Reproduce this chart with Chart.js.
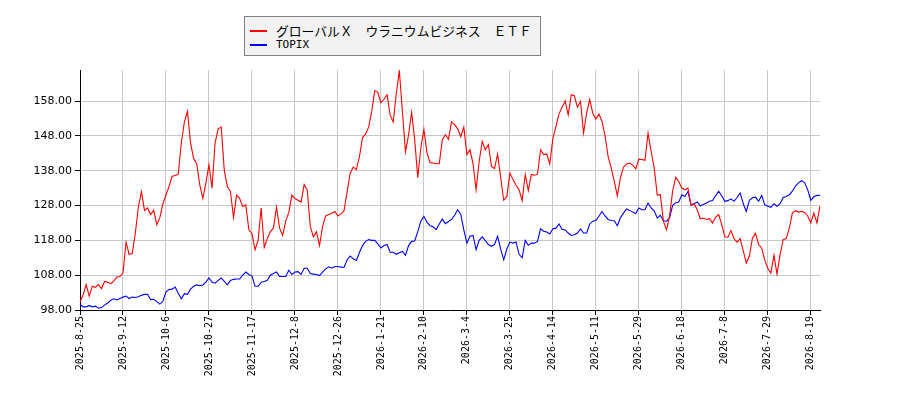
<!DOCTYPE html>
<html>
<head>
<meta charset="utf-8">
<script src="https://cdn.jsdelivr.net/npm/chart.js@4.4.1/dist/chart.umd.min.js"></script>
<style>
  html, body { margin: 0; padding: 0; background: #ffffff; }
  #wrap { position: relative; width: 900px; height: 400px; }
  #legend { position: absolute; left: 244px; top: 16px; width: 297px; height: 40px; box-sizing: border-box;
            background: #f2f2f2; border: 1px solid #808080; font-family: "Noto Sans CJK JP", sans-serif; font-size: 12.8px; color: #000; }
  .row { position: absolute; left: 0; height: 14px; }
  .sw { position: absolute; left: 5px; width: 17px; height: 2px; }
  .tx { position: absolute; left: 31px; white-space: nowrap; line-height: 14px; }
  #l1 { font-family: "DejaVu Sans Mono", monospace; font-size: 11px; }
</style>
</head>
<body>
<div id="wrap">
  <canvas id="c" width="900" height="400"></canvas>
  <div id="legend">
    <div class="row" style="top:7px;"><div class="sw" style="top:6px;background:#ff0000;"></div><div class="tx" id="l0"></div></div>
    <div class="row" style="top:21px;"><div class="sw" style="top:6px;background:#0000ff;"></div><div class="tx" id="l1"></div></div>
  </div>
</div>
<script>
const seriesNames = ["グローバルＸ　ウラニウムビジネス　ＥＴＦ", "TOPIX"];

const dates = [
"2025-8-25","2025-8-26","2025-8-27","2025-8-28","2025-8-29",
"2025-9-1","2025-9-2","2025-9-3","2025-9-4","2025-9-5","2025-9-8","2025-9-9","2025-9-10","2025-9-11","2025-9-12",
"2025-9-16","2025-9-17","2025-9-18","2025-9-19","2025-9-22","2025-9-24","2025-9-25","2025-9-26","2025-9-29","2025-9-30",
"2025-10-1","2025-10-2","2025-10-3","2025-10-6",
"2025-10-7","2025-10-8","2025-10-9","2025-10-10","2025-10-14","2025-10-15","2025-10-16","2025-10-17","2025-10-20","2025-10-21","2025-10-22","2025-10-23","2025-10-24","2025-10-27",
"2025-10-28","2025-10-29","2025-10-30","2025-10-31",
"2025-11-4","2025-11-5","2025-11-6","2025-11-7","2025-11-10","2025-11-11","2025-11-12","2025-11-13","2025-11-14","2025-11-17",
"2025-11-18","2025-11-19","2025-11-20","2025-11-21","2025-11-25","2025-11-26","2025-11-27","2025-11-28",
"2025-12-1","2025-12-2","2025-12-3","2025-12-4","2025-12-5","2025-12-8",
"2025-12-9","2025-12-10","2025-12-11","2025-12-12","2025-12-15","2025-12-16","2025-12-17","2025-12-18","2025-12-19","2025-12-22","2025-12-23","2025-12-24","2025-12-25","2025-12-26",
"2025-12-29","2025-12-30",
"2026-1-5","2026-1-6","2026-1-7","2026-1-8","2026-1-9","2026-1-13","2026-1-14","2026-1-15","2026-1-16","2026-1-19","2026-1-20","2026-1-21",
"2026-1-22","2026-1-23","2026-1-26","2026-1-27","2026-1-28","2026-1-29","2026-1-30",
"2026-2-2","2026-2-3","2026-2-4","2026-2-5","2026-2-6","2026-2-9","2026-2-10",
"2026-2-12","2026-2-13","2026-2-16","2026-2-17","2026-2-18","2026-2-19","2026-2-20","2026-2-24","2026-2-25","2026-2-26","2026-2-27",
"2026-3-2","2026-3-3","2026-3-4",
"2026-3-5","2026-3-6","2026-3-9","2026-3-10","2026-3-11","2026-3-12","2026-3-13","2026-3-16","2026-3-17","2026-3-18","2026-3-19","2026-3-23","2026-3-24","2026-3-25",
"2026-3-26","2026-3-27","2026-3-30","2026-3-31",
"2026-4-1","2026-4-2","2026-4-3","2026-4-6","2026-4-7","2026-4-8","2026-4-9","2026-4-10","2026-4-13","2026-4-14",
"2026-4-15","2026-4-16","2026-4-17","2026-4-20","2026-4-21","2026-4-22","2026-4-23","2026-4-24","2026-4-27","2026-4-28","2026-4-30",
"2026-5-7","2026-5-8","2026-5-11",
"2026-5-12","2026-5-13","2026-5-14","2026-5-15","2026-5-18","2026-5-19","2026-5-20","2026-5-21","2026-5-22","2026-5-25","2026-5-26","2026-5-27","2026-5-28","2026-5-29",
"2026-6-1","2026-6-2","2026-6-3","2026-6-4","2026-6-5","2026-6-8","2026-6-9","2026-6-10","2026-6-11","2026-6-12","2026-6-15","2026-6-16","2026-6-17","2026-6-18",
"2026-6-19","2026-6-22","2026-6-23","2026-6-24","2026-6-25","2026-6-26","2026-6-29","2026-6-30",
"2026-7-1","2026-7-2","2026-7-3","2026-7-6","2026-7-7","2026-7-8",
"2026-7-9","2026-7-10","2026-7-13","2026-7-14","2026-7-15","2026-7-16","2026-7-17","2026-7-21","2026-7-22","2026-7-23","2026-7-24","2026-7-27","2026-7-28","2026-7-29",
"2026-7-30","2026-7-31",
"2026-8-3","2026-8-4","2026-8-5","2026-8-6","2026-8-7","2026-8-10","2026-8-12","2026-8-13","2026-8-14","2026-8-17","2026-8-18","2026-8-19",
"2026-8-20","2026-8-21","2026-8-24"
];

const uraniumEtf = [
100.3,102.3,105.3,102,104.8,104.5,105.3,104.1,106.2,106,105.5,106.3,107.5,107.6,108.6,117.5,114,114.2,120,127.5,132,126.6,127.3,125.4,126.6,122.5,124.5,128.5,131,133.5,136.4,136.6,137,146,152,155,
146,141.5,140,134,130,134.5,139.7,133,146,150,150.5,138,133.4,132,124.5,131,130,127.7,128.2,121,120,115.3,118,127.3,116,118.5,120.5,121.5,127.5,121.5,119.4,123.5,126,131,
130,129.5,129,134,132.5,122,119,120.5,116.5,122,125,125.4,125.8,126.3,125,125.6,126.5,132,137.3,139,138.3,142,147.5,148.5,150.5,155,161,160.5,157.5,158.5,159.8,154,152,160,
166.7,155,143.4,148.3,154.8,146.9,136,144.5,149.8,143.1,140.3,140.2,140,140,146.9,148.3,147,152,151.2,150,147.8,150.5,142.6,144,140,132.5,140.7,146.4,144,145.5,139.2,138.6,142.8,136,
129.5,130.6,137.3,135.5,133.8,132.5,129.4,136.9,132.3,136.9,136.7,137,144,142.6,142.8,139.9,147.2,150.7,154.3,156.2,158,154,159.8,159.5,156.2,157.9,148.8,154.5,158.4,154.5,152.8,154.3,152.2,148,
142,138.8,134.9,130.8,135.9,139,139.9,140.2,139.6,138.5,141.3,141.2,141,148.8,143.5,138.8,131,131.1,123.5,121,124.9,132.1,136.1,134.9,133,132.5,133,128,128.5,126.8,124.2,124.4,124,124.2,123,
124.6,125.4,122.5,119,118.9,120.8,118.5,117.5,118.5,115,111.5,113.5,118.7,120,116.8,115.8,112.4,110,108.6,113.7,108.3,113.9,118.2,118.5,121.5,125.8,126.5,126.1,126.3,126,125,123,125.8,123,127.8
];

const topix = [
99.7,98.9,98.9,99.3,98.9,99.1,98.5,98.7,99.4,100,100.8,101.2,100.9,101.3,101.7,102,101.3,101.7,101.6,101.8,102.2,102.5,102.5,101,101.1,100.4,99.7,100.5,103.2,103.9,104,104.6,102.8,101.2,102.7,102.5,
104,104.8,105.2,105,105.2,106,107.2,106,105.7,106.5,107.2,106.2,105.2,106.5,106.8,106.9,106.9,108,108.9,108.2,107.8,104.8,104.8,106,106.2,106.5,108,108.5,108.9,107.6,107.6,107.6,109.4,108.2,
108.9,109,108.2,110,110,108.5,108.3,108.2,107.9,108.9,109.8,110.4,110,110.5,110.5,110.3,110.2,112.4,113.5,112.7,112.2,114.5,116.5,117.7,118.2,118,118,117,115.8,116.5,116.8,114.6,114.6,114,
114.4,114.8,113.7,116.5,117.7,117.8,120.5,123.5,124.9,123.2,122.2,121.9,121.1,122.7,124.1,122.8,123.4,124,125.2,126.8,125.5,121,117.2,119.2,119.4,115.3,118,119,117.9,116.8,116.3,116.8,119.2,115.5,
112.4,115.5,117.5,117.2,117.5,114,113,118,116.6,117.2,117.2,117.7,121.3,120.6,120.4,119.8,121.3,121.5,122.7,121.2,121,120.1,119.4,119.6,120.1,121.3,120.1,120.1,122.7,123.5,123.7,124.9,126.3,125,
124,123.7,123.6,122.2,124.5,125.8,127,126.6,126.1,125.7,127.3,126.8,126.8,128.7,127.3,126.5,124.4,125.2,123.6,123.5,124.4,128,128.8,129,131.1,130.6,132,128.2,128.5,129,127.9,128.3,128.7,129.2,129.4,
130.8,132.1,130.8,129.2,129.4,129.9,129.2,130.3,131.6,128.5,126.3,129.5,130.2,130.4,129.2,130.9,128.2,127.8,127.5,128.5,127.8,128.5,130.3,130.6,131.1,132.1,133.6,134.5,135.1,134.6,132.5,129.5,130.5,130.9,130.9
];

const yTicks = [98, 108, 118, 128, 138, 148, 158];
const yMin = 98, yMax = 166.9;
const xTickEvery = 14;

document.getElementById('l0').textContent = seriesNames[0];
document.getElementById('l1').textContent = seriesNames[1];

new Chart(document.getElementById('c'), {
  type: 'line',
  data: {
    labels: dates,
    datasets: [
      { label: seriesNames[0], data: uraniumEtf, borderColor: '#ff0000', borderWidth: 1.1, pointRadius: 0, tension: 0, fill: false },
      { label: seriesNames[1], data: topix, borderColor: '#0000ff', borderWidth: 1.1, pointRadius: 0, tension: 0, fill: false }
    ]
  },
  options: {
    responsive: false,
    animation: false,
    devicePixelRatio: 1,
    layout: { padding: { top: 70, right: 80, left: 0, bottom: 0 } },
    plugins: { legend: { display: false }, tooltip: { enabled: false } },
    scales: {
      x: {
        type: 'category',
        offset: false,
        afterFit: s => { s.height = 90; },
        afterBuildTicks: s => { s.ticks = s.ticks.filter(t => t.value % xTickEvery === 0); },
        grid: { color: '#c8c8c8', lineWidth: 1, drawTicks: true, tickLength: 5, tickColor: '#000000' },
        border: { display: true, color: '#000000', width: 1 },
        ticks: {
          autoSkip: false, maxRotation: 90, minRotation: 90, padding: 1, color: '#000000',
          font: { family: 'DejaVu Sans Mono', size: 10 },
          callback: function (v) { return this.getLabelForValue(v); }
        }
      },
      y: {
        min: yMin, max: yMax,
        afterFit: s => { s.width = 80; },
        afterBuildTicks: s => { s.ticks = yTicks.map(v => ({ value: v })); },
        grid: { color: '#c8c8c8', lineWidth: 1, drawTicks: true, tickLength: 5, tickColor: '#000000' },
        border: { display: true, color: '#000000', width: 1 },
        ticks: {
          padding: 3, color: '#000000',
          font: { family: 'DejaVu Sans', size: 11 },
          callback: v => Number(v).toFixed(2)
        }
      }
    }
  }
});
</script>
</body>
</html>
